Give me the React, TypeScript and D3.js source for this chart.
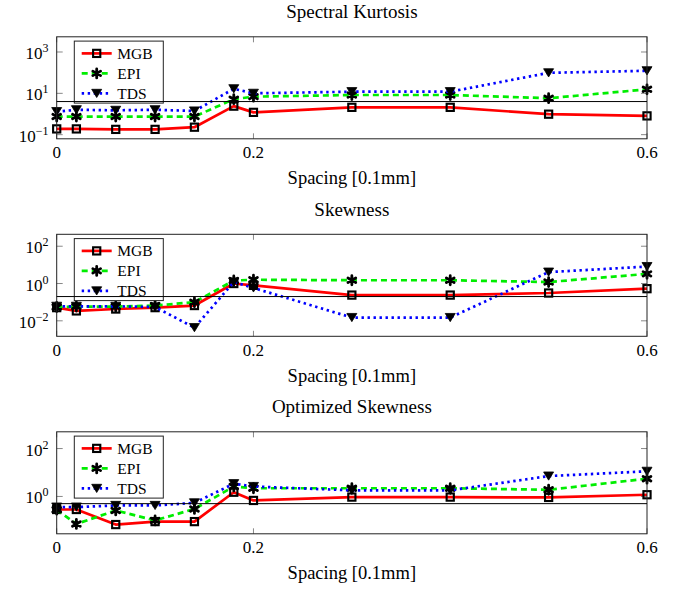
import React from "react";
import * as d3 from "d3";

const xs = [0, 0.02, 0.06, 0.1, 0.14, 0.18, 0.2, 0.3, 0.4, 0.5, 0.6];

const kurtMGB = [0.19, 0.19, 0.18, 0.18, 0.23, 2.4, 1.2, 2.1, 2.1, 0.98, 0.81];
const kurtEPI = [0.75, 0.75, 0.75, 0.75, 0.75, 5.2, 6.9, 8.3, 8.3, 5.8, 15.6];
const kurtTDS = [1.3, 1.6, 1.5, 1.6, 1.4, 16.6, 10, 12, 12, 98, 123];

const skewMGB = [0.051, 0.034, 0.043, 0.051, 0.066, 1.0, 0.8, 0.24, 0.24, 0.31, 0.53];
const skewEPI = [0.055, 0.058, 0.058, 0.066, 0.1, 1.45, 1.6, 1.5, 1.5, 1.2, 3.3];
const skewTDS = [0.06, 0.06, 0.06, 0.055, 0.0043, 1.2, 0.58, 0.015, 0.015, 4.1, 8.1];

const optMGB = [0.285, 0.285, 0.067, 0.089, 0.089, 1.5, 0.68, 0.94, 0.94, 0.91, 1.18];
const optEPI = [0.28, 0.071, 0.26, 0.1, 0.3, 2.6, 2.2, 2.2, 2.2, 1.9, 5.5];
const optTDS = [0.36, 0.36, 0.42, 0.42, 0.54, 3.4, 2.6, 1.8, 1.8, 7.1, 11.2];

const titles = ["Spectral Kurtosis", "Skewness", "Optimized Skewness"];
const thresholds = [4, 0.2, 0.5];
const yLogDomains = [
  [-1.2, 3.735],
  [-2.83, 2.64],
  [-1.56, 2.7],
];
const yTickExps = [
  [-1, 1, 3],
  [-2, 0, 2],
  [0, 2],
];
const xTicks = [0, 0.2, 0.6];
const xTickLabels = ["0", "0.2", "0.6"];
const xLabel = "Spacing [0.1mm]";
const seriesNames = ["MGB", "EPI", "TDS"];
const panelData = [
  [kurtMGB, kurtEPI, kurtTDS],
  [skewMGB, skewEPI, skewTDS],
  [optMGB, optEPI, optTDS],
];

const FONT = '"Liberation Serif", "DejaVu Serif", serif';
const W = 681;
const H = 590;
const boxLeft = 56.7;
const boxRight = 647;
const boxTop = 36.8;
const boxH = 102;
const panelStep = 197.5;

const styles = [
  { color: "#ff0000", dash: undefined as string | undefined, marker: "square" },
  { color: "#00ee00", dash: "6 4", marker: "asterisk" },
  { color: "#0000ff", dash: "2.4 3.6", marker: "triangle" },
];

function Marker({ kind, x, y }: { kind: string; x: number; y: number }) {
  if (kind === "square") {
    return (
      <rect x={x - 3.6} y={y - 3.6} width={7.2} height={7.2} fill="none" stroke="#000" strokeWidth={2.1} />
    );
  }
  if (kind === "asterisk") {
    const r = 4.5;
    const p = d3.path();
    for (let i = 0; i < 3; i++) {
      const a = Math.PI / 2 + (i * Math.PI) / 3;
      p.moveTo(x + r * Math.cos(a), y + r * Math.sin(a));
      p.lineTo(x - r * Math.cos(a), y - r * Math.sin(a));
    }
    return <path d={p.toString()} stroke="#000" strokeWidth={2.8} fill="none" strokeLinecap="round" />;
  }
  const w = 5;
  const h = 8.2;
  const p = d3.path();
  p.moveTo(x - w, y - h / 2);
  p.lineTo(x + w, y - h / 2);
  p.lineTo(x, y + h / 2);
  p.closePath();
  return <path d={p.toString()} fill="#000" stroke="#000" strokeWidth={0.8} />;
}

const textStyle = { fontFamily: FONT };

function Panel({ idx }: { idx: number }) {
  const off = idx * panelStep;
  const top = boxTop + off;
  const bottom = top + boxH;
  const x = d3.scaleLinear().domain([0, 0.6]).range([boxLeft, boxRight]);
  const [lo, hi] = yLogDomains[idx];
  const y = d3.scaleLog().domain([Math.pow(10, lo), Math.pow(10, hi)]).range([bottom, top]);
  const line = d3
    .line<[number, number]>()
    .x((d) => x(d[0]))
    .y((d) => y(d[1]));
  const cx = (boxLeft + boxRight) / 2;
  const legX = boxLeft + 17.6;
  const legY = top + 4.3;
  return (
    <g>
      <text x={cx} y={18.3 + off} textAnchor="middle" fontSize={19} style={textStyle} fill="#000">
        {titles[idx]}
      </text>
      {xTicks.map((t, i) => (
        <g key={"xt" + i}>
          <line x1={x(t)} x2={x(t)} y1={bottom} y2={bottom - 5.5} stroke="#888" strokeWidth={1} />
          <line x1={x(t)} x2={x(t)} y1={top} y2={top + 5.5} stroke="#888" strokeWidth={1} />
          <text x={x(t)} y={bottom + 19.3} textAnchor="middle" fontSize={17} style={textStyle} fill="#000">
            {xTickLabels[i]}
          </text>
        </g>
      ))}
      {yTickExps[idx].map((e) => {
        const ty = y(Math.pow(10, e));
        return (
          <g key={"yt" + e}>
            <line x1={boxLeft} x2={boxLeft + 6} y1={ty} y2={ty} stroke="#888" strokeWidth={1} />
            <line x1={boxRight} x2={boxRight - 6} y1={ty} y2={ty} stroke="#888" strokeWidth={1} />
            <text x={48.5} y={ty + 7} textAnchor="end" style={textStyle} fill="#000">
              <tspan fontSize={17}>10</tspan>
              <tspan fontSize={12} dy={-7}>
                {e < 0 ? "\u2212" + Math.abs(e) : String(e)}
              </tspan>
            </text>
          </g>
        );
      })}
      {panelData[idx].map((vals, si) => {
        const pts: [number, number][] = xs.map((xv, k) => [xv, vals[k]]);
        return (
          <g key={"s" + si}>
            <path
              d={line(pts) || ""}
              fill="none"
              stroke={styles[si].color}
              strokeWidth={2.7}
              strokeDasharray={styles[si].dash}
              strokeLinejoin="round"
            />
            {pts.map((p, k) => (
              <Marker key={k} kind={styles[si].marker} x={x(p[0])} y={y(p[1])} />
            ))}
          </g>
        );
      })}
      <rect x={boxLeft} y={top} width={boxRight - boxLeft} height={boxH} fill="none" stroke="#222" strokeWidth={1} />
      <rect x={legX} y={legY} width={89} height={62} fill="#fff" stroke="#222" strokeWidth={1} />
      {seriesNames.map((n, si) => {
        const ey = legY + 12.3 + si * 20;
        return (
          <g key={"l" + si}>
            <line
              x1={legX + 7.4}
              x2={legX + 37.4}
              y1={ey}
              y2={ey}
              stroke={styles[si].color}
              strokeWidth={2.7}
              strokeDasharray={styles[si].dash}
            />
            <Marker kind={styles[si].marker} x={legX + 22.4} y={ey} />
            <text x={legX + 43} y={ey + 5.3} fontSize={15.5} style={textStyle} fill="#000">
              {n}
            </text>
          </g>
        );
      })}
      <line
        x1={boxLeft}
        x2={boxRight}
        y1={y(thresholds[idx])}
        y2={y(thresholds[idx])}
        stroke="#000"
        strokeWidth={1}
      />
      <text x={cx} y={bottom + 45.5} textAnchor="middle" fontSize={18.5} style={textStyle} fill="#000">
        {xLabel}
      </text>
    </g>
  );
}

export default function App() {
  return (
    <svg
      width={W}
      height={H}
      viewBox={`0 0 ${W} ${H}`}
      style={{ position: "absolute", left: 0, top: 0, background: "#fff" }}
    >
      <rect x={0} y={0} width={W} height={H} fill="#fff" />
      {[0, 1, 2].map((i) => (
        <Panel key={i} idx={i} />
      ))}
    </svg>
  );
}
